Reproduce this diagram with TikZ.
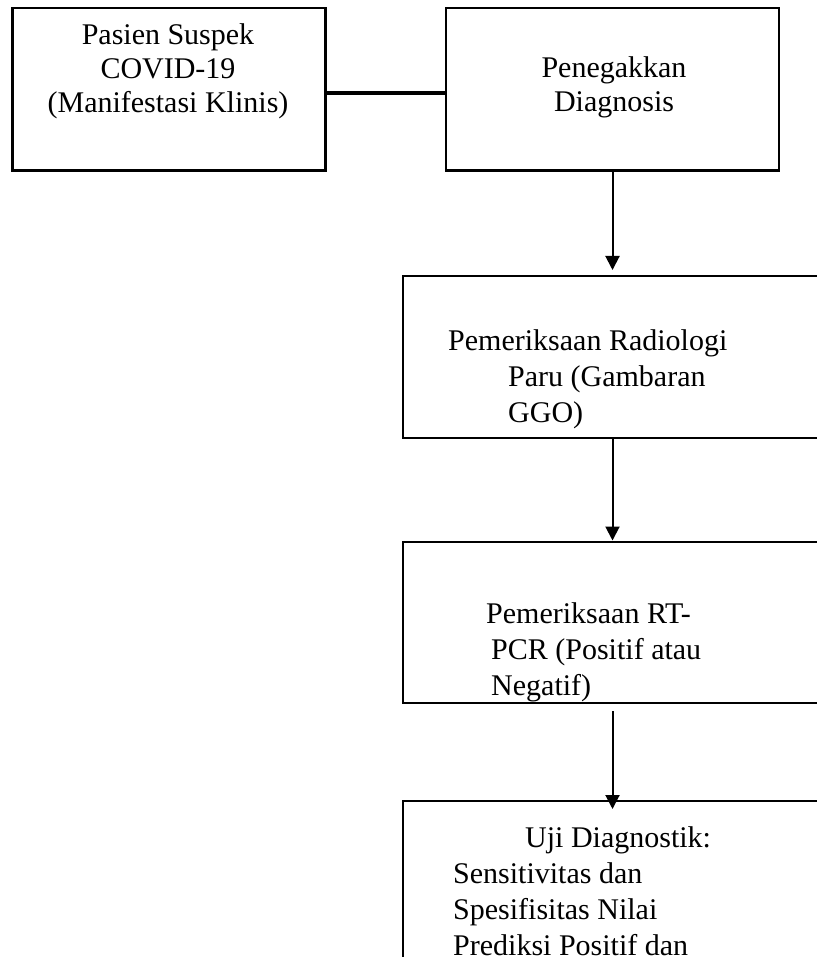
\documentclass[tikz,border=0pt]{standalone}
\usepackage{fontspec}
\setmainfont{Liberation Serif}
\usetikzlibrary{arrows.meta}

\begin{document}
\begin{tikzpicture}[x=1pt, y=-1pt,
    box/.style={draw, inner sep=0pt, line width=2.6pt},
    thinbox/.style={draw, inner sep=0pt, line width=2pt},
    flow/.style={-{Triangle[width=14pt, length=14pt]}, line width=2pt},
    txt/.style={inner sep=0pt, font=\fontsize{30}{34}\selectfont},
    txtwide/.style={inner sep=0pt, align=left, anchor=base west, font=\fontsize{30}{36}\selectfont}]
  \useasboundingbox (0,0) rectangle (816,957);

  % kotak atas
  \node[box, minimum width=312.5pt, minimum height=162.5pt] (pasien) at (169,89.25) {};
  \node[box, minimum width=333pt, minimum height=162.5pt] (diagnosis) at (612.5,89.25) {};
  \node[txt, align=center, anchor=base] (pasientxt) at (168,113) {Pasien Suspek\\COVID-19\\(Manifestasi Klinis)};
  \node[txt, align=center, anchor=base] (diagnosistxt) at (614,112) {Penegakkan\\Diagnosis};

  % kotak pemeriksaan
  \node[thinbox, minimum width=437pt, minimum height=162pt] (radiologi) at (621.5,357) {};
  \node[thinbox, minimum width=437pt, minimum height=161.5pt] (pcr) at (621.5,622.25) {};
  \node[thinbox, minimum width=437pt, minimum height=200pt] (uji) at (621.5,901) {};
  \node[txtwide] (radiologitxt) at (448,422)
    {Pemeriksaan Radiologi\\\hspace*{60pt}Paru (Gambaran\\\hspace*{60pt}GGO)};
  \node[txtwide] (pcrtxt) at (486,695)
    {Pemeriksaan RT-\\\hspace*{5pt}PCR (Positif atau\\\hspace*{5pt}Negatif)};
  \node[txtwide] (ujitxt) at (453,955)
    {\hspace*{72pt}Uji Diagnostik:\\Sensitivitas dan\\Spesifisitas Nilai\\Prediksi Positif dan};

  % garis dan panah
  \draw[line width=3.5pt] ([yshift=-4pt]pasien.east) -- ([yshift=-4pt]diagnosis.west);
  \draw[flow, shorten >=5pt] (diagnosis.south) -- (diagnosis.south |- radiologi.north);
  \draw[flow] (diagnosis.south |- radiologi.south) -- (diagnosis.south |- pcr.north);
  \draw[flow, shorten <=7pt, shorten >=-9pt] (diagnosis.south |- pcr.south) -- (diagnosis.south |- uji.north);
\end{tikzpicture}
\end{document}
